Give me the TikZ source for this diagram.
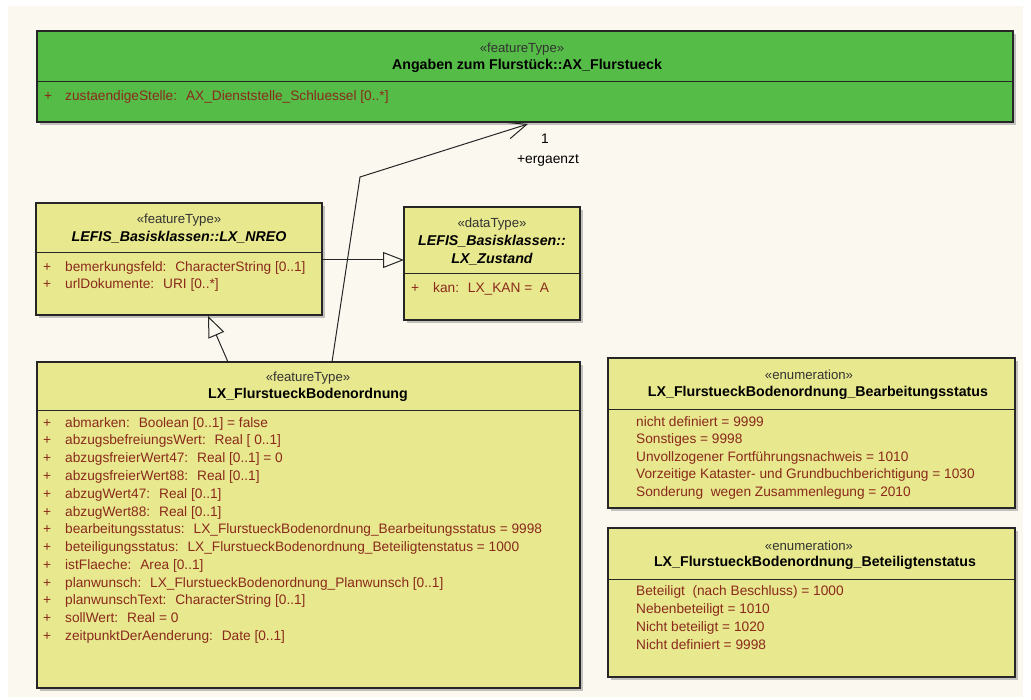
\documentclass[tikz,border=0pt]{standalone}
\usepackage{fontspec}
\setmainfont{Liberation Sans}
\usetikzlibrary{arrows.meta,calc}

\definecolor{panel}{HTML}{FAF8EF}
\definecolor{featgreen}{HTML}{56BC48}
\definecolor{classyel}{HTML}{E8E88E}
\definecolor{attrred}{HTML}{8A2A1C}

% class box: name, x, y, width, height, divider y, fill colour
\newcommand\umlclass[7]{%
  \fill[boxshadow] (#2+3,#3+3) rectangle (#2+#4+3,#3+#5+3);
  \node[umlbox, fill=#7, minimum width=#4pt, minimum height=#5pt] (#1) at (#2,#3) {};
  \draw[divider] (#1.west |- 0,#6) -- (#1.east |- 0,#6);
}

\begin{document}
\begin{tikzpicture}[x=1pt,y=-1pt,
  umlbox/.style={draw=black!85, line width=1.1pt, inner sep=0pt, outer sep=0pt, anchor=north west},
  boxshadow/.style={fill=black!45, opacity=0.5},
  divider/.style={draw=black!85, line width=1pt},
  stereo/.style={font=\fontsize{13.2}{15}\selectfont, text=black!80, inner sep=0pt},
  cname/.style={font=\bfseries\fontsize{14.2}{18}\selectfont, text=black, inner sep=0pt, align=center},
  aname/.style={font=\bfseries\itshape\fontsize{14.2}{18}\selectfont, text=black, inner sep=0pt, align=center},
  attr/.style={font=\fontsize{13.7}{15}\selectfont, text=attrred, inner sep=0pt, anchor=west, text height=9.5pt, text depth=3pt},
  conn/.style={draw=black!85, line width=1pt},
  lbl/.style={font=\fontsize{13.8}{15}\selectfont, text=black, inner sep=0pt}]

\useasboundingbox (0,0) rectangle (1031,700);
\fill[white] (0,0) rectangle (1031,700);
\fill[panel] (8,6) rectangle (1023,697);

% ---------- classes ----------
\umlclass{flst}{37}{31}{976}{91}{82}{featgreen}
\umlclass{nreo}{36}{203}{286}{112}{253}{classyel}
\umlclass{zust}{404}{207}{176}{113}{274}{classyel}
\umlclass{bod}{37}{362}{543}{326}{411}{classyel}
\umlclass{bearb}{608}{358}{407}{150}{410}{classyel}
\umlclass{betei}{608}{528}{407}{149}{579}{classyel}

% AX_Flurstueck
\node[stereo] (flst-st) at (522,49) {«featureType»};
\node[cname] (flst-nm) at (527,66) {Angaben zum Flurstück::AX\_Flurstueck};
\node[attr] (flst-p1) at (44,97) {+};
\node[attr] (flst-a1) at (65,97) {zustaendigeStelle:~ AX\_Dienststelle\_Schluessel [0..*]};

% LX_NREO
\node[stereo] (nreo-st) at (179,220) {«featureType»};
\node[aname] (nreo-nm) at (179,237) {LEFIS\_Basisklassen::LX\_NREO};
\node[attr] (nreo-p1) at (43,268) {+};
\node[attr] (nreo-a1) at (65,268) {bemerkungsfeld:~ CharacterString [0..1]};
\node[attr] (nreo-p2) at (43,285) {+};
\node[attr] (nreo-a2) at (65,285) {urlDokumente:~ URI [0..*]};

% LX_Zustand
\node[stereo] (zust-st) at (492,224) {«dataType»};
\node[aname] (zust-nm) at (492,250) {LEFIS\_Basisklassen::\\LX\_Zustand};
\node[attr] (zust-p1) at (411,289) {+};
\node[attr] (zust-a1) at (433,289) {kan:~ LX\_KAN =~ A};

% LX_FlurstueckBodenordnung
\node[stereo] (bod-st) at (308,378) {«featureType»};
\node[cname] (bod-nm) at (308,395) {LX\_FlurstueckBodenordnung};
\foreach \t [count=\i, evaluate=\i as \yy using 424+17.75*(\i-1)] in {
  abmarken:~ Boolean [0..1] = false,
  abzugsbefreiungsWert:~ Real [ 0..1],
  abzugsfreierWert47:~ Real [0..1] = 0,
  abzugsfreierWert88:~ Real [0..1],
  abzugWert47:~ Real [0..1],
  abzugWert88:~ Real [0..1],
  bearbeitungsstatus:~ LX\_FlurstueckBodenordnung\_Bearbeitungsstatus = 9998,
  beteiligungsstatus:~ LX\_FlurstueckBodenordnung\_Beteiligtenstatus = 1000,
  istFlaeche:~ Area [0..1],
  planwunsch:~ LX\_FlurstueckBodenordnung\_Planwunsch [0..1],
  planwunschText:~ CharacterString [0..1],
  sollWert:~ Real = 0,
  zeitpunktDerAenderung:~ Date [0..1]}{
  \node[attr] (bod-p\i) at (43,\yy) {+};
  \node[attr] (bod-a\i) at (65,\yy) {\t};
}

% enumeration Bearbeitungsstatus
\node[stereo] (bearb-st) at (809,375) {«enumeration»};
\node[cname] (bearb-nm) at (818,393) {LX\_FlurstueckBodenordnung\_Bearbeitungsstatus};
\foreach \t [count=\i, evaluate=\i as \yy using 423+17.5*(\i-1)] in {
  nicht definiert = 9999,
  Sonstiges = 9998,
  Unvollzogener Fortführungsnachweis = 1010,
  Vorzeitige Kataster- und Grundbuchberichtigung = 1030,
  Sonderung~ wegen Zusammenlegung = 2010}{
  \node[attr] (bearb-a\i) at (636,\yy) {\t};
}

% enumeration Beteiligtenstatus
\node[stereo] (betei-st) at (809,546) {«enumeration»};
\node[cname] (betei-nm) at (815,563) {LX\_FlurstueckBodenordnung\_Beteiligtenstatus};
\foreach \t [count=\i, evaluate=\i as \yy using 592+18*(\i-1)] in {
  Beteiligt~ (nach Beschluss) = 1000,
  Nebenbeteiligt = 1010,
  Nicht beteiligt = 1020,
  Nicht definiert = 9998}{
  \node[attr] (betei-a\i) at (636,\yy) {\t};
}

% ---------- connectors ----------
% generalisation LX_FlurstueckBodenordnung -> LX_NREO
\coordinate (gen1s) at ($(bod.north west)+(191,0)$);
\coordinate (gen1t) at ($(nreo.south west)+(172,1)$);
\draw[conn, -{Triangle[open, length=21pt, width=17pt]}] (gen1s) -- (gen1t);

% generalisation LX_NREO -> LX_Zustand
\draw[conn, -{Triangle[open, length=21pt, width=16pt]}] (nreo.east |- 0,260) -- (zust.west |- 0,260);

% association LX_FlurstueckBodenordnung -> AX_Flurstueck
\coordinate (asss) at ($(bod.north west)+(295,0)$);
\coordinate (assb) at (360,177);
\coordinate (asst) at ($(flst.south west)+(491,2)$);
\draw[conn, -{Straight Barb[length=20pt, width=17pt]}] (asss) -- (assb) -- (asst);
\node[lbl] (mult) at (545,139) {1};
\node[lbl] (role) at (548,160) {+ergaenzt};

\end{tikzpicture}
\end{document}
